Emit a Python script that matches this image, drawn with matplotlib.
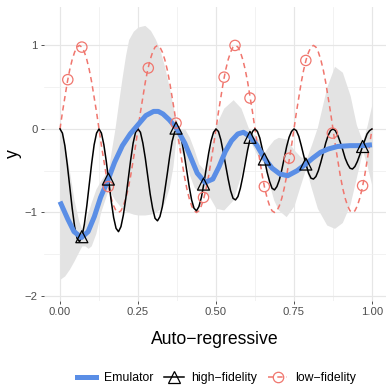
import numpy as np
import matplotlib
matplotlib.use("Agg")
import matplotlib.pyplot as plt
from matplotlib.lines import Line2D

plt.rcParams["font.family"] = ["Liberation Sans", "DejaVu Sans"]

# ---- curves sampled on a regular grid of 129 points over [0, 1] ----
grid_x = np.linspace(0.0, 1.0, 129)

low_fidelity_curve = [
    0.00, 0.20, 0.38, 0.56, 0.71, 0.83, 0.92, 0.98, 1.00, 0.98, 0.92, 0.83, 0.71, 0.56, 0.38, 0.20,
    0.00, -0.20, -0.38, -0.56, -0.71, -0.83, -0.92, -0.98, -1.00, -0.98, -0.92, -0.83, -0.71, -0.56, -0.38, -0.20,
    0.00, 0.20, 0.38, 0.56, 0.71, 0.83, 0.92, 0.98, 1.00, 0.98, 0.92, 0.83, 0.71, 0.56, 0.38, 0.20,
    0.00, -0.20, -0.38, -0.56, -0.71, -0.83, -0.92, -0.98, -1.00, -0.98, -0.92, -0.83, -0.71, -0.56, -0.38, -0.20,
    0.00, 0.20, 0.38, 0.56, 0.71, 0.83, 0.92, 0.98, 1.00, 0.98, 0.92, 0.83, 0.71, 0.56, 0.38, 0.20,
    0.00, -0.20, -0.38, -0.56, -0.71, -0.83, -0.92, -0.98, -1.00, -0.98, -0.92, -0.83, -0.71, -0.56, -0.38, -0.20,
    0.00, 0.20, 0.38, 0.56, 0.71, 0.83, 0.92, 0.98, 1.00, 0.98, 0.92, 0.83, 0.71, 0.56, 0.38, 0.20,
    0.00, -0.20, -0.38, -0.56, -0.71, -0.83, -0.92, -0.98, -1.00, -0.98, -0.92, -0.83, -0.71, -0.56, -0.38, -0.20,
    0.00,
]

high_fidelity_curve = [
    0.00, -0.05, -0.20, -0.43, -0.69, -0.95, -1.17, -1.31, -1.35, -1.29, -1.14, -0.92, -0.66, -0.41, -0.19, -0.05,
    0.00, -0.05, -0.19, -0.39, -0.63, -0.86, -1.06, -1.19, -1.23, -1.17, -1.03, -0.83, -0.60, -0.37, -0.17, -0.04,
    0.00, -0.04, -0.17, -0.35, -0.57, -0.78, -0.95, -1.07, -1.10, -1.05, -0.93, -0.74, -0.54, -0.33, -0.15, -0.04,
    0.00, -0.04, -0.15, -0.31, -0.50, -0.69, -0.85, -0.95, -0.98, -0.93, -0.82, -0.66, -0.47, -0.29, -0.14, -0.04,
    0.00, -0.03, -0.13, -0.28, -0.44, -0.60, -0.74, -0.83, -0.85, -0.81, -0.71, -0.57, -0.41, -0.25, -0.12, -0.03,
    0.00, -0.03, -0.11, -0.24, -0.38, -0.52, -0.63, -0.71, -0.73, -0.69, -0.61, -0.49, -0.35, -0.21, -0.10, -0.03,
    0.00, -0.02, -0.09, -0.20, -0.32, -0.43, -0.53, -0.59, -0.60, -0.57, -0.50, -0.40, -0.29, -0.17, -0.08, -0.02,
    0.00, -0.02, -0.08, -0.16, -0.25, -0.35, -0.42, -0.47, -0.48, -0.45, -0.39, -0.31, -0.22, -0.14, -0.06, -0.02,
    0.00,
]

# ---- emulator mean ----
emu_x = [0.000, 0.025, 0.045, 0.069, 0.090, 0.110, 0.130, 0.155, 0.175, 0.200, 0.225, 0.250,
         0.275, 0.300, 0.315, 0.330, 0.350, 0.375, 0.400, 0.420, 0.440, 0.465, 0.490, 0.510,
         0.530, 0.550, 0.570, 0.588, 0.609, 0.630, 0.655, 0.680, 0.705, 0.730, 0.760, 0.788,
         0.810, 0.835, 0.860, 0.890, 0.930, 0.970, 1.000]
emu_y = [-0.87, -1.08, -1.23, -1.30, -1.23, -1.05, -0.82, -0.60, -0.40, -0.20, -0.06, 0.05,
         0.16, 0.21, 0.21, 0.18, 0.11, 0.00, -0.17, -0.35, -0.53, -0.64, -0.60, -0.45,
         -0.27, -0.14, -0.06, -0.04, -0.09, -0.19, -0.35, -0.47, -0.54, -0.56, -0.50, -0.42,
         -0.35, -0.28, -0.24, -0.21, -0.20, -0.20, -0.19]

# ---- emulator uncertainty band ----
band_x = [0.000, 0.015, 0.030, 0.045, 0.060, 0.070, 0.080, 0.090, 0.100, 0.115, 0.130, 0.155,
          0.165, 0.176, 0.187, 0.198, 0.210, 0.220, 0.235, 0.250, 0.272, 0.290, 0.305, 0.320,
          0.335, 0.350, 0.362, 0.372, 0.385, 0.400, 0.415, 0.430, 0.445, 0.465, 0.480, 0.500,
          0.525, 0.555, 0.580, 0.600, 0.609, 0.630, 0.655, 0.670, 0.685, 0.700, 0.725, 0.750,
          0.770, 0.788, 0.805, 0.825, 0.855, 0.880, 0.905, 0.930, 0.950, 0.970, 0.985, 1.000]
band_lo = [-1.80, -1.76, -1.68, -1.58, -1.47, -1.40, -1.40, -1.43, -1.40, -1.25, -1.00, -0.72,
           -0.78, -0.85, -0.90, -0.95, -0.98, -1.00, -1.02, -1.03, -1.03, -1.02, -1.00, -0.96,
           -0.88, -0.70, -0.45, -0.10, -0.25, -0.35, -0.55, -0.70, -0.75, -0.75, -0.82, -0.95,
           -0.97, -0.85, -0.55, -0.22, -0.14, -0.30, -0.42, -0.65, -0.85, -0.97, -1.05, -0.92,
           -0.68, -0.47, -0.70, -0.95, -1.15, -1.19, -1.12, -0.90, -0.58, -0.26, -0.45, -0.68]
band_hi = [0.05, -0.20, -0.50, -0.85, -1.10, -1.20, -1.13, -1.00, -0.88, -0.72, -0.62, -0.48,
           -0.25, 0.00, 0.30, 0.59, 0.88, 1.07, 1.17, 1.22, 1.24, 1.18, 1.08, 0.95,
           0.75, 0.50, 0.28, 0.08, 0.00, 0.00, -0.10, -0.25, -0.42, -0.50, -0.25, 0.05,
           0.25, 0.35, 0.25, 0.05, -0.04, -0.08, -0.28, -0.20, -0.13, -0.10, -0.12, -0.25,
           -0.33, -0.37, -0.20, 0.02, 0.50, 0.75, 0.68, 0.40, 0.05, -0.15, 0.05, 0.30]

# ---- design points ----
lf_x = [0.025, 0.070, 0.155, 0.283, 0.372, 0.460, 0.526, 0.561, 0.609, 0.655, 0.735, 0.788, 0.873, 0.970]
lf_y = [0.59, 0.98, -0.69, 0.73, 0.07, -0.82, 0.62, 1.00, 0.37, -0.69, -0.35, 0.82, -0.05, -0.68]
hf_x = [0.070, 0.155, 0.372, 0.460, 0.609, 0.655, 0.788, 0.970]
hf_y = [-1.29, -0.60, 0.01, -0.66, -0.10, -0.36, -0.42, -0.21]

x_ticks = [0.00, 0.25, 0.50, 0.75, 1.00]
x_tick_labels = ["0.00", "0.25", "0.50", "0.75", "1.00"]
y_ticks = [-2, -1, 0, 1]
y_tick_labels = ["\u22122", "\u22121", "0", "1"]

BLUE = "#5A8EE6"
RED = "#F0766E"
BAND = "#E3E3E3"

fig = plt.figure(figsize=(3.86, 3.85), dpi=100)
ax = fig.add_axes([44 / 386, 1 - 301 / 385, 342 / 386, 294 / 385])

ax.fill_between(band_x, band_lo, band_hi, color=BAND, lw=0, zorder=1)
ax.plot(grid_x, low_fidelity_curve, color=RED, lw=1.1, ls=(0, (3.5, 2.6)), zorder=2)
ax.plot(grid_x, high_fidelity_curve, color="black", lw=1.1, zorder=3)
ax.plot(emu_x, emu_y, color=BLUE, lw=3.6, solid_capstyle="butt", zorder=4)
ax.scatter(lf_x, lf_y, s=55, facecolors="none", edgecolors=RED, linewidths=0.9, zorder=5)
ax.scatter(hf_x, hf_y, s=75, marker="^", facecolors="none", edgecolors="black", linewidths=0.9, zorder=6)

ax.set_xlim(-0.0513, 1.045)
ax.set_ylim(-2.06, 1.46)

ax.set_xticks(x_ticks)
ax.set_xticklabels(x_tick_labels)
ax.set_yticks(y_ticks)
ax.set_yticklabels(y_tick_labels)
ax.set_xticks([0.125, 0.375, 0.625, 0.875], minor=True)
ax.set_yticks([-1.5, -0.5, 0.5], minor=True)

ax.grid(which="major", color="#E6E6E6", lw=0.85)
ax.grid(which="minor", color="#EFEFEF", lw=0.55)
ax.set_axisbelow(True)
for s in ax.spines.values():
    s.set_visible(False)

ax.tick_params(which="major", length=2.5, width=0.6, color="#333333",
               labelsize=8.1, labelcolor="#4D4D4D", pad=2.0)
ax.tick_params(which="minor", length=0)

ax.set_xlabel("Auto\u2212regressive", fontsize=12.7, color="black")
ax.xaxis.set_label_coords(0.5, (301 - 340) / 294)
ax.xaxis.label.set_va("center")
ax.set_ylabel("y", fontsize=12.7, color="black")
ax.yaxis.set_label_coords((13 - 44) / 342, 0.5)
ax.yaxis.label.set_va("center")

handles = [
    Line2D([], [], color=BLUE, lw=3.6),
    Line2D([], [], color="black", lw=1.1, marker="^", markersize=8.5,
           markerfacecolor="none", markeredgecolor="black", markeredgewidth=0.9),
    Line2D([], [], color=RED, lw=1.1, ls=(0, (3.5, 2.6)), marker="o", markersize=7.5,
           markerfacecolor="none", markeredgecolor=RED, markeredgewidth=0.9),
]
labels = ["Emulator", "high\u2212fidelity", "low\u2212fidelity"]
fig.legend(handles, labels, loc="center", bbox_to_anchor=(0.56, 1 - 378 / 385), ncol=3,
           frameon=False, fontsize=8.8, handlelength=1.6, handletextpad=0.6,
           columnspacing=0.9, borderpad=0.0)

fig.savefig("out.png", dpi=100)
